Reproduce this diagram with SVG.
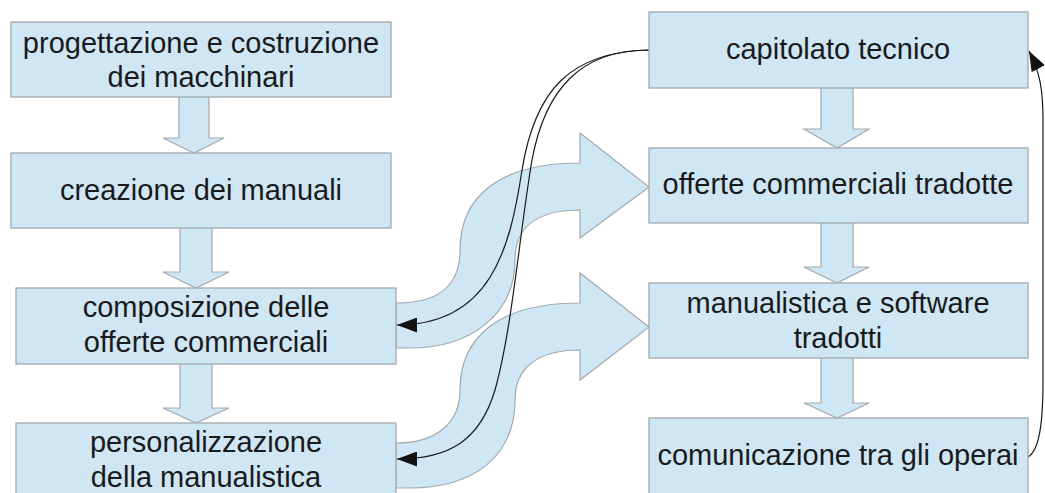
<svg xmlns="http://www.w3.org/2000/svg" width="1045" height="493" viewBox="0 0 1045 493">
<style>
.box{fill:#cfe6f4;stroke:#a3a9ad;stroke-width:1.3}
.blk{fill:#cfe6f4;stroke:#a3a9ad;stroke-width:1.2}
.ln{fill:none;stroke:#1a1a1a;stroke-width:1.2}
text{font-family:"Liberation Sans",Arial,sans-serif;font-size:29px;fill:#1a1a1a;text-anchor:middle}
</style>
<defs>
<marker id="ah" markerUnits="userSpaceOnUse" viewBox="0 0 20 15" refX="20" refY="7.5" markerWidth="20" markerHeight="15" orient="auto">
<path d="M0,0 L20,7.5 L0,15 Z" fill="#111"/>
</marker>
</defs>
<rect width="1045" height="493" fill="#ffffff"/>
<g id="connectors">
<path class="blk" d="M179,96 L209,96 L209,138 L224,138 L194,153 L163,138 L179,138 Z"/>
<path class="blk" d="M180,227 L212,227 L212,272 L229,272 L196,288 L163,272 L180,272 Z"/>
<path class="blk" d="M180,363 L212,363 L212,408 L229,408 L196,423 L163,408 L180,408 Z"/>
<path class="blk" d="M821,87 L853,87 L853,129 L869,129 L837,148 L804,129 L821,129 Z"/>
<path class="blk" d="M821,222 L853,222 L853,267 L869,267 L837,283 L804,267 L821,267 Z"/>
<path class="blk" d="M821,357 L853,357 L853,403 L869,403 L837,418 L804,403 L821,403 Z"/>
<path class="blk" d="M396,303 C440,303 460,285 460,250 C460,200 495,163 580,163 L580,133 L649,187 L580,238 L580,210 C540,210 515,225 515,260 C515,315 470,348 410,348 L396,348 Z"/>
<path class="blk" d="M396,443 C440,443 460,420 460,390 C460,340 495,303 580,303 L580,273 L649,327 L580,380 L580,350 C535,350 515,370 515,400 C515,455 475,488 410,488 L396,488 Z"/>
<path class="ln" d="M649,50 C570,52 535,90 522,170 C510,250 490,325 397,325" marker-end="url(#ah)"/>
<path class="ln" d="M649,50 C580,50 545,90 532,160 C520,230 512,330 495,390 C480,440 450,459 397,459" marker-end="url(#ah)"/>
<path class="ln" d="M1028,457 C1040,450 1043,420 1043,380 L1043,120 C1043,90 1040,72 1029,51" marker-end="url(#ah)"/>
</g>
<g id="n1"><rect class="box" x="11" y="22" width="380" height="75"/><text x="201" y="53">progettazione e costruzione</text><text x="201" y="87">dei macchinari</text></g>
<g id="n2"><rect class="box" x="11" y="153" width="380" height="75"/><text x="201" y="200">creazione dei manuali</text></g>
<g id="n3"><rect class="box" x="16" y="288" width="380" height="76"/><text x="206" y="317">composizione delle</text><text x="206" y="352">offerte commerciali</text></g>
<g id="n4"><rect class="box" x="16" y="423" width="380" height="76"/><text x="206" y="452">personalizzazione</text><text x="206" y="487">della manualistica</text></g>
<g id="n5"><rect class="box" x="649" y="12" width="379" height="76"/><text x="838" y="59">capitolato tecnico</text></g>
<g id="n6"><rect class="box" x="649" y="148" width="379" height="75"/><text x="838" y="194">offerte commerciali tradotte</text></g>
<g id="n7"><rect class="box" x="649" y="283" width="379" height="75"/><text x="838" y="313">manualistica e software</text><text x="838" y="348">tradotti</text></g>
<g id="n8"><rect class="box" x="649" y="418" width="379" height="80"/><text x="838" y="465">comunicazione tra gli operai</text></g>
</svg>
